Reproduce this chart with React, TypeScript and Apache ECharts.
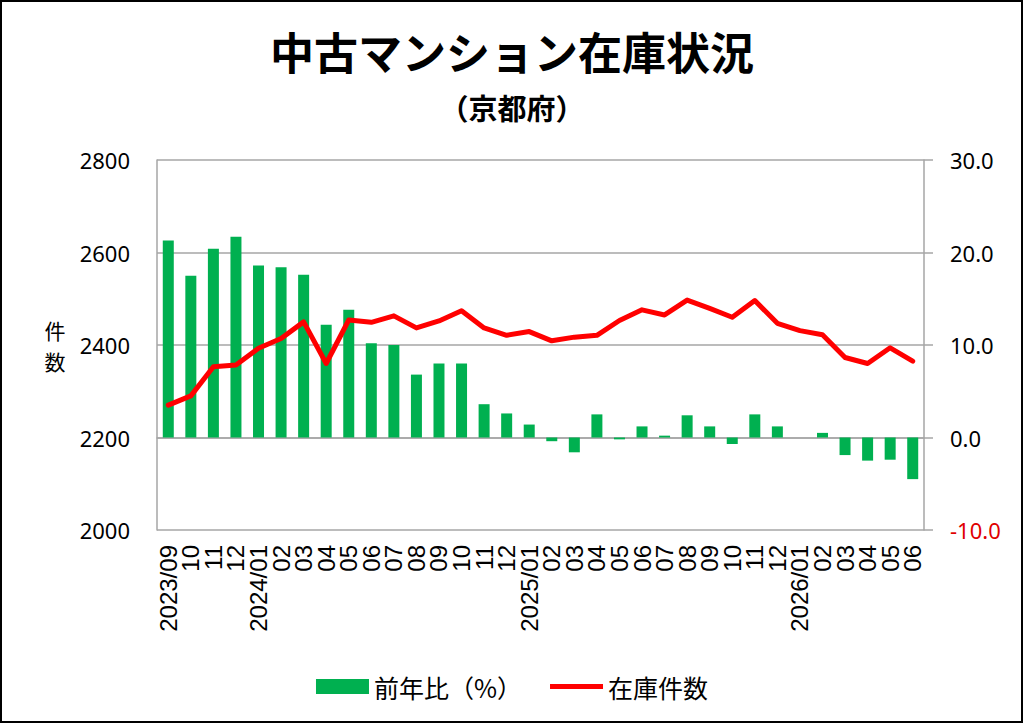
import { useEffect, useRef } from "react";
import * as echarts from "echarts";

// x axis labels (month by month, year shown on the first and on January)
const categories = [
  "2023/09", "10", "11", "12",
  "2024/01", "02", "03", "04", "05", "06", "07", "08", "09", "10", "11", "12",
  "2025/01", "02", "03", "04", "05", "06", "07", "08", "09", "10", "11", "12",
  "2026/01", "02", "03", "04", "05", "06",
];

// 前年比 (%) — right axis
const yoyValues = [
  21.3, 17.5, 20.4, 21.7,
  18.6, 18.4, 17.6, 12.2, 13.8, 10.2, 10.0, 6.8, 8.0, 8.0, 3.6, 2.6,
  1.4, -0.4, -1.6, 2.5, -0.2, 1.2, 0.2, 2.4, 1.2, -0.7, 2.5, 1.2,
  0, 0.5, -1.9, -2.5, -2.4, -4.5,
];

// 在庫件数 — left axis
const stockValues = [
  2270, 2290, 2353, 2357,
  2393, 2414, 2450, 2360, 2454, 2449, 2463, 2437, 2452, 2474, 2437, 2421,
  2429, 2409, 2417, 2421, 2453, 2476, 2465, 2497, 2479, 2460, 2496, 2447,
  2431, 2422, 2373, 2360, 2394, 2365,
];

const numFont = "'Liberation Sans', 'Noto Sans CJK JP', sans-serif";
const axisFont = "'Noto Sans', 'Noto Sans CJK JP', sans-serif";
const cjkFont = "'Noto Sans CJK JP', sans-serif";
const gray = "#a6a6a6";

const App = () => {
  const chartRef = useRef(null);

  useEffect(() => {
    const chart = echarts.init(chartRef.current, null, { renderer: "svg" });

    const option = {
      animation: false,
      backgroundColor: "#ffffff",
      title: [
        {
          text: "中古マンション在庫状況",
          left: "center",
          top: 24,
          textStyle: { fontFamily: cjkFont, fontSize: 44, fontWeight: "bold", color: "#000" },
        },
        {
          text: "（京都府）",
          left: "center",
          top: 87,
          textStyle: { fontFamily: cjkFont, fontSize: 29, fontWeight: "bold", color: "#000" },
        },
      ],
      legend: {
        top: 669,
        left: "center",
        itemGap: 28,
        itemWidth: 53,
        itemHeight: 15,
        textStyle: { fontFamily: cjkFont, fontSize: 25, color: "#000" },
        data: [
          { name: "前年比（%）", icon: "rect" },
          { name: "在庫件数", icon: "path://M0,0 L53,0 L53,5 L0,5 Z" },
        ],
      },
      grid: { left: 157, right: 100, top: 160, bottom: 194 },
      xAxis: {
        type: "category",
        data: categories,
        axisLine: { lineStyle: { color: gray, width: 1.5 } },
        axisTick: { show: false },
        axisLabel: {
          interval: 0,
          rotate: 90,
          margin: 15,
          fontFamily: numFont,
          fontSize: 24,
          color: "#000",
        },
      },
      yAxis: [
        {
          type: "value",
          min: 2000,
          max: 2800,
          interval: 200,
          axisLine: { show: true, lineStyle: { color: gray, width: 1.5 } },
          axisTick: { show: false },
          splitLine: { lineStyle: { color: gray, width: 1.5 } },
          axisLabel: {
            margin: 27,
            fontFamily: axisFont,
            fontSize: 22,
            color: "#000",
            formatter: (v: number) => String(v),
          },
        },
        {
          type: "value",
          min: -10,
          max: 30,
          interval: 10,
          axisLine: { show: true, lineStyle: { color: gray, width: 1.5 } },
          axisTick: { show: true, length: 9, lineStyle: { color: gray, width: 1.5 } },
          splitLine: { show: false },
          axisLabel: {
            margin: 26,
            fontFamily: axisFont,
            fontSize: 22,
            color: "#000",
            formatter: (v: number) =>
              v < 0 ? `{neg|${v.toFixed(1)}}` : v.toFixed(1),
            rich: {
              neg: { color: "#e00000", fontFamily: axisFont, fontSize: 22 },
            },
          },
        },
      ],
      series: [
        {
          name: "前年比（%）",
          type: "bar",
          yAxisIndex: 1,
          data: yoyValues,
          barWidth: 11,
          itemStyle: { color: "#00b050" },
        },
        {
          name: "在庫件数",
          type: "line",
          yAxisIndex: 0,
          data: stockValues,
          symbol: "none",
          z: 5,
          lineStyle: { color: "#ff0000", width: 5, join: "round", cap: "round" },
          itemStyle: { color: "#ff0000" },
        },
      ],
      graphic: [
        {
          type: "rect",
          shape: { x: 1, y: 1, width: 1021, height: 721 },
          style: { fill: "none", stroke: "#000", lineWidth: 2 },
          silent: true,
        },
        {
          type: "text",
          x: 55,
          y: 330,
          style: {
            text: "件",
            fontFamily: cjkFont,
            fontSize: 21,
            fill: "#000",
            align: "center",
            verticalAlign: "middle",
          },
        },
        {
          type: "text",
          x: 55,
          y: 361,
          style: {
            text: "数",
            fontFamily: cjkFont,
            fontSize: 21,
            fill: "#000",
            align: "center",
            verticalAlign: "middle",
          },
        },
      ],
    };

    chart.setOption(option);

    return () => {
      chart.dispose();
    };
  }, []);

  return (
    <div
      ref={chartRef}
      style={{ position: "fixed", left: 0, top: 0, width: "1024px", height: "724px" }}
    ></div>
  );
};

export default App;
